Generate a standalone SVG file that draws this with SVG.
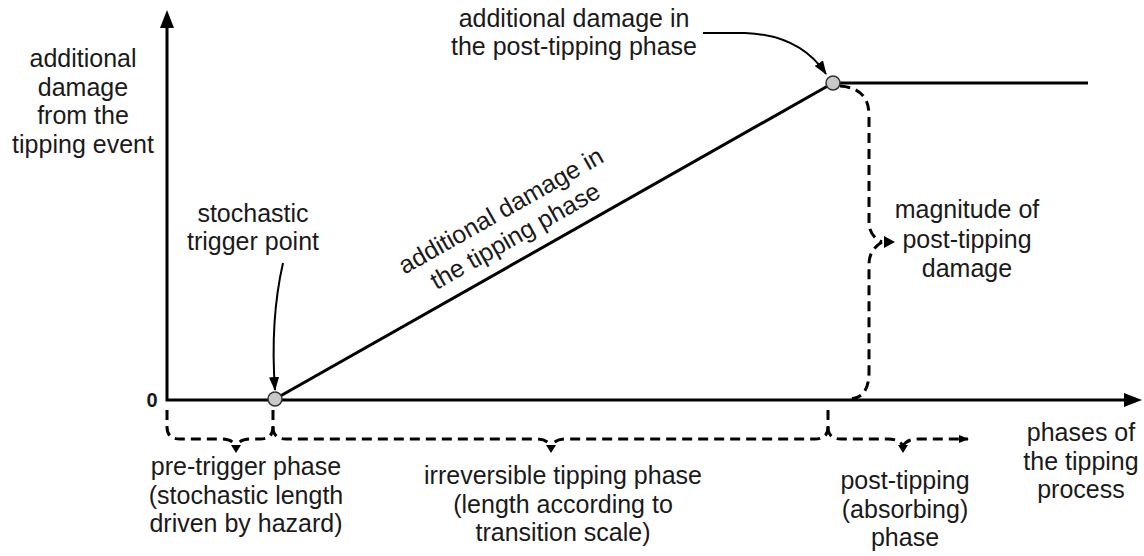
<svg xmlns="http://www.w3.org/2000/svg" width="1144" height="556" viewBox="0 0 1144 556">
<style>
  text { font-family: "Liberation Sans", Arial, sans-serif; font-size: 25px; fill: #1a1a1a; }
  .c { text-anchor: middle; }
  .zero { font-size: 20px; font-weight: bold; }
  .axis { stroke: #000; stroke-width: 3; fill: none; }
  .solid { stroke: #000; stroke-width: 3; fill: none; }
  .thin { stroke: #000; stroke-width: 2; fill: none; }
  .dash { stroke: #000; stroke-width: 3; fill: none; stroke-dasharray: 10 6; }
  .pt { fill: #c8c8c8; stroke: #333; stroke-width: 1.5; }
  .head { fill: #000; }
</style>
<defs>
  <marker id="arr" viewBox="0 0 14 10" refX="13" refY="5" markerWidth="14" markerHeight="10" markerUnits="userSpaceOnUse" orient="auto">
    <path d="M0,0 L14,5 L0,10 Z" fill="#000"/>
  </marker>
  <marker id="arrs" viewBox="0 0 10 8" refX="9" refY="4" markerWidth="10" markerHeight="8" markerUnits="userSpaceOnUse" orient="auto">
    <path d="M0,0 L10,4 L0,8 Z" fill="#000"/>
  </marker>
</defs>

<g id="axes">
  <path class="axis" d="M167,26 L167,400 L1126,400"/>
  <path class="head" d="M160,28 L167,10 L174,28 Z"/>
  <path class="head" d="M1124,393 L1142,400 L1124,407 Z"/>
  <text x="152" y="407" class="c zero">0</text>
</g>

<g id="connectors">
  <path class="solid" d="M275,399 L833,83"/>
  <path class="solid" d="M833,83 L1088,83"/>
  <path class="thin" d="M703,33 L745,33 Q800,35 826,74" marker-end="url(#arr)"/>
  <path class="thin" d="M283,263 Q270,320 275,390" marker-end="url(#arr)"/>
  <!-- pre-trigger brace -->
  <path class="dash" d="M167,410 L167,427 Q167,439 180,439 L222,439 Q232,439 236,446"/>
  <path class="dash" d="M273,410 L273,427 Q273,439 260,439 L250,439 Q240,439 236,446"/>
  <path class="head" d="M231,445 L241,445 L236,453 Z"/>
  <!-- tipping brace -->
  <path class="dash" d="M273,427 Q273,439 286,439 L536,439 Q547,439 551,446"/>
  <path class="dash" d="M828,410 L828,427 Q828,439 815,439 L566,439 Q555,439 551,446"/>
  <path class="head" d="M546,445 L556,445 L551,453 Z"/>
  <!-- post-tipping brace -->
  <path class="dash" d="M828,427 Q828,439 841,439 L888,439 Q899,439 903,446"/>
  <path class="dash" d="M903,446 Q907,439 918,439 L968,439" marker-end="url(#arrs)"/>
  <path class="head" d="M898,445 L908,445 L903,453 Z"/>
  <!-- magnitude brace -->
  <path class="dash" d="M840,86 Q869,88 869,115 L869,222 Q869,236 882,242"/>
  <path class="dash" d="M882,242 Q869,250 869,264 L869,372 Q869,398 850,399"/>
  <path class="head" d="M884,236 L895,242 L884,248 Z"/>
</g>

<g id="trigger-point">
  <circle class="pt" cx="275" cy="399" r="7"/>
</g>
<g id="tipping-point">
  <circle class="pt" cx="833" cy="83" r="7"/>
</g>

<g id="y-label">
  <text x="83" y="67" class="c">additional</text>
  <text x="83" y="95.5" class="c">damage</text>
  <text x="83" y="124" class="c">from the</text>
  <text x="83" y="152.5" class="c">tipping event</text>
</g>

<g id="post-damage-label">
  <text x="574" y="27" class="c">additional damage in</text>
  <text x="574" y="55" class="c">the post-tipping phase</text>
</g>

<g id="trigger-label">
  <text x="253" y="222" class="c">stochastic</text>
  <text x="253" y="250" class="c">trigger point</text>
</g>

<g id="tipping-damage-label" transform="translate(505,218) rotate(-29.5)">
  <text x="0" y="0" class="c">additional damage in</text>
  <text x="0" y="29" class="c">the tipping phase</text>
</g>

<g id="magnitude-label">
  <text x="967" y="218" class="c">magnitude of</text>
  <text x="967" y="247.5" class="c">post-tipping</text>
  <text x="967" y="277" class="c">damage</text>
</g>

<g id="pre-trigger-label">
  <text x="246" y="475" class="c">pre-trigger phase</text>
  <text x="246" y="503.5" class="c">(stochastic length</text>
  <text x="246" y="532" class="c">driven by hazard)</text>
</g>

<g id="tipping-phase-label">
  <text x="563" y="484" class="c">irreversible tipping phase</text>
  <text x="563" y="512.5" class="c">(length according to</text>
  <text x="563" y="541" class="c">transition scale)</text>
</g>

<g id="post-tipping-label">
  <text x="905" y="489" class="c">post-tipping</text>
  <text x="905" y="517.5" class="c">(absorbing)</text>
  <text x="905" y="546" class="c">phase</text>
</g>

<g id="x-label">
  <text x="1081" y="441" class="c">phases of</text>
  <text x="1081" y="469.5" class="c">the tipping</text>
  <text x="1081" y="498" class="c">process</text>
</g>
</svg>
